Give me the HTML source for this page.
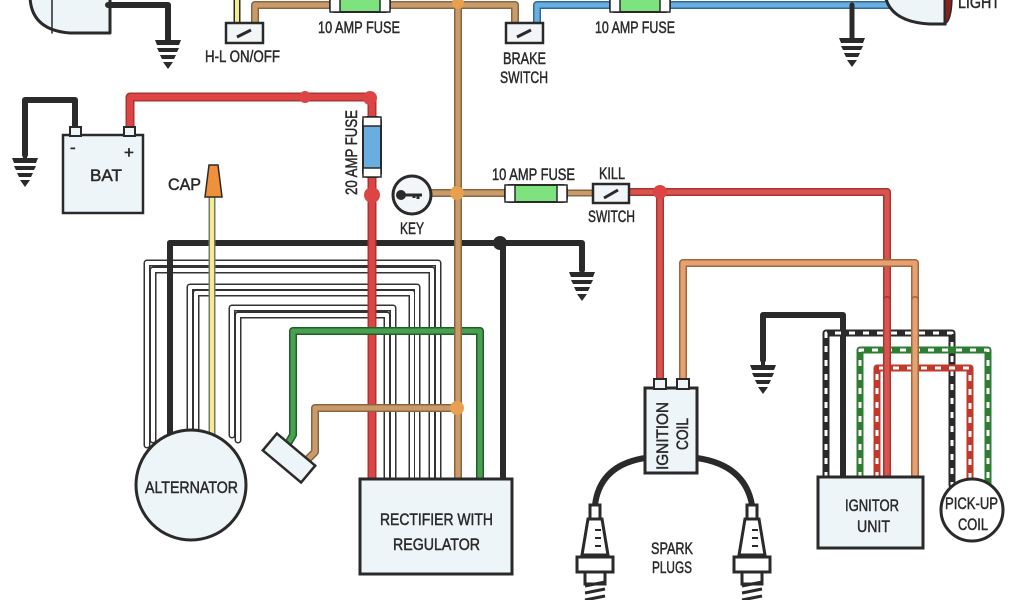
<!DOCTYPE html>
<html><head><meta charset="utf-8"><style>
html,body{margin:0;padding:0;background:#fff;width:1024px;height:600px;overflow:hidden}
svg{display:block}
text{font-family:"Liberation Sans",sans-serif;fill:#2a2a2a;font-size:17px;stroke:#2a2a2a;stroke-width:0.5}
</style></head><body>
<svg width="1024" height="600" viewBox="0 0 1024 600" xmlns="http://www.w3.org/2000/svg">
<defs>
<g id="gnd"><rect x="-2" y="0" width="4" height="10" fill="#2a2a2a"/>
<path d="M-13 10h26l-2 5h-22zM-11 18h22l-2 4h-18zM-8 25h16l-2 4h-12zM-5 32h10l-5 7z" fill="#2a2a2a"/></g>
</defs>
<g fill="none" stroke-linejoin="round" stroke-linecap="round">
<path d="M30 -5 Q30 30 70 33 L110 33 L110 -5" fill="#eef5f8" stroke="#2a2a2a" stroke-width="3"/>
<path d="M52 -5 L52 33" stroke="#2a2a2a" stroke-width="1.5"/>
<path d="M108 5 H168 V40" stroke="#2a2a2a" stroke-width="6"/>
<path d="M237 -5 V24" stroke="#2a2a2a" stroke-width="7"/><path d="M237 -5 V24" stroke="#f3ee8a" stroke-width="4"/>
<path d="M255 24 V5 H515 V24" stroke="#8a6540" stroke-width="8"/><path d="M255 24 V5 H515 V24" stroke="#c99a6a" stroke-width="5"/>
<path d="M537 24 V5 H890" stroke="#2d6a9a" stroke-width="8"/><path d="M537 24 V5 H890" stroke="#6aaee0" stroke-width="5"/>
<path d="M852 5 V40" stroke="#2a2a2a" stroke-width="5"/>
<path d="M458 3 V478" stroke="#8a6540" stroke-width="8"/><path d="M458 3 V478" stroke="#c99a6a" stroke-width="5"/>
<path d="M75 135 V100 H25 V155" stroke="#2a2a2a" stroke-width="6"/>
<path d="M130 130 V97 H372 V478" stroke="#a33" stroke-width="9"/><path d="M130 130 V97 H372 V478" stroke="#dd4444" stroke-width="6"/>
<path d="M428 193 H510" stroke="#8a6540" stroke-width="8"/><path d="M428 193 H510" stroke="#c99a6a" stroke-width="5"/>
<path d="M565 193 H595" stroke="#8a6540" stroke-width="7"/><path d="M565 193 H595" stroke="#c99a6a" stroke-width="4"/>
<path d="M628 192 H887 V478 M660 192 V388" stroke="#a33" stroke-width="8"/><path d="M628 192 H887 V478 M660 192 V388" stroke="#d9534f" stroke-width="5"/>
<path d="M683 388 V263 H915 V478" stroke="#9a6a40" stroke-width="8"/><path d="M683 388 V263 H915 V478" stroke="#e8a070" stroke-width="5"/>
<path d="M582 243 H170 M582 243 V270 M503 243 V478" stroke="#2a2a2a" stroke-width="6"/>
<path d="M147 445 V263 H438 V478 M153 440 V270 H432 V478 M190 435 V287 H417 V478 M196 432 V293 H412 V478 M232 435 V308 H393 V478 M238 440 V315 H387 V478" stroke="#333" stroke-width="7"/>
<path d="M147 445 V263 H438 V478 M153 440 V270 H432 V478 M190 435 V287 H417 V478 M196 432 V293 H412 V478 M232 435 V308 H393 V478 M238 440 V315 H387 V478" stroke="#fff" stroke-width="4"/>
<path d="M170 243 V435" stroke="#2a2a2a" stroke-width="6"/>
<path d="M212 197 V435" stroke="#777" stroke-width="7"/><path d="M212 197 V435" stroke="#f3ee8a" stroke-width="4"/>
<path d="M372 195 V478" stroke="#a33" stroke-width="9"/><path d="M372 195 V478" stroke="#dd4444" stroke-width="6"/>
<path d="M287 445 L293 435 V331 H480 V478" stroke="#1f5f2a" stroke-width="8"/><path d="M287 445 L293 435 V331 H480 V478" stroke="#4aa050" stroke-width="5"/>
<path d="M305 462 L315 452 V408 H458" stroke="#8a6540" stroke-width="8"/><path d="M305 462 L315 452 V408 H458" stroke="#c99a6a" stroke-width="5"/>
<path d="M458 190 V478" stroke="#8a6540" stroke-width="8"/><path d="M458 190 V478" stroke="#c99a6a" stroke-width="5"/>
<path d="M763 360 V315 H843 V478" stroke="#2a2a2a" stroke-width="6"/>
<path d="M826 478 V333 H952 V485" stroke="#2a2a2a" stroke-width="7"/><path d="M826 478 V333 H952 V485" stroke="#fff" stroke-width="3" stroke-dasharray="6 8" stroke-linecap="butt"/>
<path d="M860 478 V350 H988 V495" stroke="#2e7d32" stroke-width="7"/><path d="M860 478 V350 H988 V495" stroke="#fff" stroke-width="3" stroke-dasharray="6 8" stroke-linecap="butt"/>
<path d="M877 478 V368 H970 V480" stroke="#c0392b" stroke-width="7"/><path d="M877 478 V368 H970 V480" stroke="#fff" stroke-width="3" stroke-dasharray="6 8" stroke-linecap="butt"/>
<path d="M887 300 V478" stroke="#a33" stroke-width="8"/><path d="M887 300 V478" stroke="#d9534f" stroke-width="5"/>
<path d="M915 300 V478" stroke="#9a6a40" stroke-width="8"/><path d="M915 300 V478" stroke="#e8a070" stroke-width="5"/>
<path d="M645 458 Q600 465 595 505 M697 458 Q745 465 752 505" stroke="#2a2a2a" stroke-width="6"/>
</g>
<use href="#gnd" x="168" y="30"/><use href="#gnd" x="852" y="28"/><use href="#gnd" x="25" y="148"/><use href="#gnd" x="582" y="262"/><use href="#gnd" x="763" y="355"/>
<rect x="330" y="-4" width="60" height="16" rx="4" fill="#7ee27e" stroke="#2a2a2a" stroke-width="2"/><rect x="330" y="-4" width="10" height="16" fill="#fff" stroke="#2a2a2a" stroke-width="1.5"/><rect x="380" y="-4" width="10" height="16" fill="#fff" stroke="#2a2a2a" stroke-width="1.5"/>
<rect x="610" y="-4" width="60" height="16" rx="4" fill="#7ee27e" stroke="#2a2a2a" stroke-width="2"/><rect x="610" y="-4" width="10" height="16" fill="#fff" stroke="#2a2a2a" stroke-width="1.5"/><rect x="660" y="-4" width="10" height="16" fill="#fff" stroke="#2a2a2a" stroke-width="1.5"/>
<rect x="505" y="185" width="62" height="17" rx="4" fill="#7ee27e" stroke="#2a2a2a" stroke-width="2"/><rect x="505" y="185" width="10" height="17" fill="#fff" stroke="#2a2a2a" stroke-width="1.5"/><rect x="557" y="185" width="10" height="17" fill="#fff" stroke="#2a2a2a" stroke-width="1.5"/>
<rect x="363" y="117" width="18" height="60" rx="4" fill="#6aaee0" stroke="#2a2a2a" stroke-width="2"/><rect x="363" y="117" width="18" height="9" fill="#fff" stroke="#2a2a2a" stroke-width="1.5"/><rect x="363" y="168" width="18" height="9" fill="#fff" stroke="#2a2a2a" stroke-width="1.5"/>
<g fill="#f2f6f8" stroke="#2a2a2a" stroke-width="2.5"><rect x="226" y="23" width="37" height="20"/><rect x="506" y="23" width="37" height="20"/><rect x="593" y="184" width="36" height="19"/></g>
<g stroke="#2a2a2a" stroke-width="3"><path d="M237 37 L251 30M517 37 L531 30M604 198 L618 190"/></g>
<g fill="#dd4444"><circle cx="305" cy="97" r="6"/><circle cx="370" cy="98" r="7"/><circle cx="372" cy="195" r="8"/><circle cx="660" cy="192" r="7"/></g>
<g fill="#e8a050"><circle cx="458" cy="3" r="6"/><circle cx="457" cy="193" r="7"/><circle cx="457" cy="408" r="7"/></g>
<circle cx="500" cy="243" r="7" fill="#2a2a2a"/>
<circle cx="412" cy="195" r="19" fill="#f2f6f8" stroke="#2a2a2a" stroke-width="3"/>
<path d="M400 195 h22 M418 195 v4 M414 195 v3" stroke="#2a2a2a" stroke-width="3"/><circle cx="401" cy="195" r="5" fill="#2a2a2a"/>
<rect x="63" y="135" width="80" height="78" fill="#eef5f8" stroke="#2a2a2a" stroke-width="2.5"/>
<rect x="70" y="127" width="11" height="9" fill="#eef5f8" stroke="#2a2a2a" stroke-width="2"/><rect x="124" y="127" width="11" height="9" fill="#eef5f8" stroke="#2a2a2a" stroke-width="2"/>
<path d="M205 197 L209 165 H218 L222 197 Z" fill="#f0903a" stroke="#2a2a2a" stroke-width="1.5"/>
<path d="M885 -5 Q890 22 930 24 L945 24 L945 -5" fill="#eef5f8" stroke="#2a2a2a" stroke-width="3"/>
<path d="M945 -5 V24 Q952 20 952 -5 Z" fill="#8b2020" stroke="#2a2a2a" stroke-width="1.5"/>
<circle cx="191" cy="485" r="55" fill="#eef5f8" stroke="#2a2a2a" stroke-width="3"/>
<rect x="264" y="447" width="50" height="22" fill="#eef5f8" stroke="#2a2a2a" stroke-width="2.5" transform="rotate(40 289 458)"/>
<rect x="360" y="479" width="152" height="95" fill="#eef5f8" stroke="#2a2a2a" stroke-width="3"/>
<rect x="645" y="388" width="52" height="85" fill="#eef5f8" stroke="#2a2a2a" stroke-width="3"/>
<rect x="654" y="379" width="12" height="10" fill="#eef5f8" stroke="#2a2a2a" stroke-width="2"/><rect x="677" y="379" width="12" height="10" fill="#eef5f8" stroke="#2a2a2a" stroke-width="2"/>
<rect x="818" y="477" width="105" height="71" fill="#eef5f8" stroke="#2a2a2a" stroke-width="3"/>
<circle cx="972" cy="510" r="31" fill="#fff" stroke="#2a2a2a" stroke-width="3"/>
<g id="plug" fill="#fff" stroke="#2a2a2a" stroke-width="3">
<rect x="590" y="505" width="10" height="14"/>
<path d="M588 519 H602 L608 555 H582 Z"/>
<path d="M595 530 h6 M595 538 h6 M595 546 h6" stroke-width="2"/>
<rect x="577" y="557" width="36" height="15"/>
<rect x="585" y="572" width="20" height="12"/>
<path d="M585 586 l20 -4 M585 593 l20 -4 M585 600 l20 -4" stroke-width="3"/>
</g>
<use href="#plug" x="157"/>
<g>
<text x="318" y="33" textLength="82" lengthAdjust="spacingAndGlyphs">10 AMP FUSE</text>
<text x="595" y="33" textLength="80" lengthAdjust="spacingAndGlyphs">10 AMP FUSE</text>
<text x="205" y="62" textLength="75" lengthAdjust="spacingAndGlyphs">H-L ON/OFF</text>
<text x="503" y="64" textLength="43" lengthAdjust="spacingAndGlyphs">BRAKE</text>
<text x="500" y="83" textLength="48" lengthAdjust="spacingAndGlyphs">SWITCH</text>
<text x="958" y="8" textLength="42" lengthAdjust="spacingAndGlyphs">LIGHT</text>
<text x="90" y="181" font-size="20" textLength="32" lengthAdjust="spacingAndGlyphs">BAT</text>
<text x="70" y="153" font-size="14">-</text><text x="124" y="158" font-size="16">+</text>
<text x="168" y="190" font-size="19" textLength="33" lengthAdjust="spacingAndGlyphs">CAP</text>
<text transform="translate(357 195) rotate(-90)" textLength="85" lengthAdjust="spacingAndGlyphs">20 AMP FUSE</text>
<text x="400" y="234" textLength="24" lengthAdjust="spacingAndGlyphs">KEY</text>
<text x="492" y="180" textLength="83" lengthAdjust="spacingAndGlyphs">10 AMP FUSE</text>
<text x="599" y="179" textLength="26" lengthAdjust="spacingAndGlyphs">KILL</text>
<text x="588" y="222" textLength="47" lengthAdjust="spacingAndGlyphs">SWITCH</text>
<text x="145" y="493" font-size="18" textLength="93" lengthAdjust="spacingAndGlyphs">ALTERNATOR</text>
<text x="380" y="525" font-size="19" textLength="113" lengthAdjust="spacingAndGlyphs">RECTIFIER WITH</text>
<text x="393" y="550" font-size="19" textLength="87" lengthAdjust="spacingAndGlyphs">REGULATOR</text>
<text transform="translate(668 470) rotate(-90)" font-size="15" textLength="68" lengthAdjust="spacingAndGlyphs">IGNITION</text>
<text transform="translate(688 450) rotate(-90)" font-size="15" textLength="32" lengthAdjust="spacingAndGlyphs">COIL</text>
<text x="651" y="554" textLength="42" lengthAdjust="spacingAndGlyphs">SPARK</text>
<text x="652" y="573" textLength="40" lengthAdjust="spacingAndGlyphs">PLUGS</text>
<text x="845" y="511" font-size="18" textLength="54" lengthAdjust="spacingAndGlyphs">IGNITOR</text>
<text x="857" y="532" font-size="18" textLength="33" lengthAdjust="spacingAndGlyphs">UNIT</text>
<text x="945" y="509" font-size="16" textLength="53" lengthAdjust="spacingAndGlyphs">PICK-UP</text>
<text x="958" y="530" font-size="16" textLength="30" lengthAdjust="spacingAndGlyphs">COIL</text>
</g>
</svg>
</body></html>
